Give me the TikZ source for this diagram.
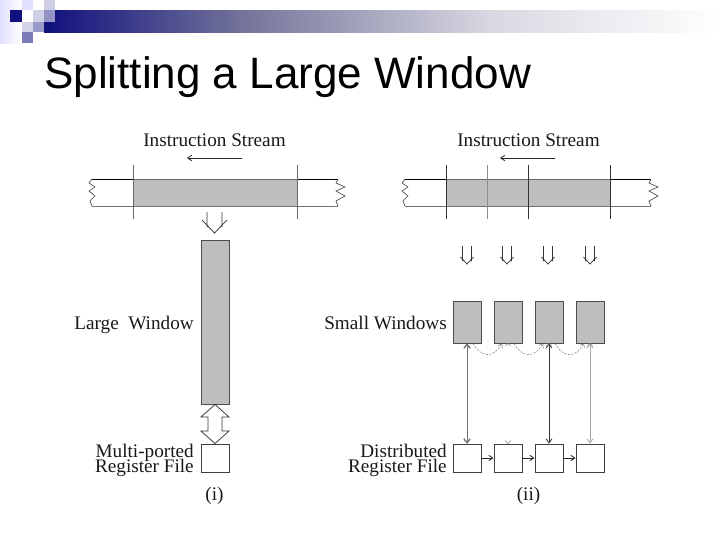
\documentclass[tikz,border=0pt]{standalone}
\usepackage{fontspec}
\setmainfont{Liberation Serif}
\newfontfamily\titlefont{Liberation Sans}
\usetikzlibrary{arrows.meta}
\setlength{\lineskiplimit}{-20pt}
\definecolor{wgray}{HTML}{BEBEBE}
\definecolor{navyA}{HTML}{10107E}
\definecolor{navyB}{HTML}{75759B}
\definecolor{navyC}{HTML}{D8D8E2}
\pgfdeclarehorizontalshading{bandshade}{100bp}{
 color(0bp)=(navyA); color(25bp)=(navyA); color(40bp)=(navyB); color(58bp)=(navyC); color(75bp)=(white); color(100bp)=(white)}
\tikzset{
 x=0.75pt,y=-0.75pt,
 lbl/.style={font=\fontsize{14.4pt}{10.9pt}\selectfont,text=black!90,inner sep=0pt},
 winbox/.style={draw=black!70,fill=wgray,line width=0.7pt,inner sep=0pt,minimum width=21pt,minimum height=31.5pt},
 regbox/.style={draw=black!75,fill=white,line width=0.7pt,inner sep=0pt,minimum width=21pt,minimum height=21pt},
 thin1/.style={draw=black!55,line width=0.55pt},
 tick1/.style={draw=black!60,line width=0.6pt},
 flow/.style={draw=black!85,line width=0.6pt,-{Straight Barb[length=3pt,width=4pt]}},
 dbl/.style={draw=black!55,line width=0.6pt,{Straight Barb[length=3pt,width=4.5pt]}-{Straight Barb[length=3pt,width=4.5pt]}},
 hop/.style={draw=black!50,line width=0.4pt,dash pattern=on 1.6pt off 1pt,-{Straight Barb[length=2.5pt,width=4pt]}},
 hollow/.style={draw=black!80,line width=0.55pt,line join=miter},
}
\newcommand{\downpair}[2]{%
 \draw[hollow] (#1-4.5,#2) -- (#1-4.5,#2+15) (#1+4.5,#2) -- (#1+4.5,#2+15)
  (#1-6.5,#2+11) -- (#1,#2+18) -- (#1+6.5,#2+11);}
\newcommand{\streamband}[2]{%
 \fill[wgray] (#1,179) rectangle (#2,206);
 \draw[black,line width=0.7pt] (#1-41,179) -- (#1,179) (#2,179) -- (#2+41,179);
 \draw[black!60,line width=0.7pt] (#1,179) -- (#2,179);
 \draw[thin1] (#1-41,206) -- (#2+41,206);
 \draw[black!70,line width=0.5pt] (#1-41,179) -- (#1-44,183) -- (#1-38,187) -- (#1-44,191) -- (#1-38,196) -- (#1-43,201) -- (#1-41,206);
 \draw[black!70,line width=0.5pt] (#2+41,179) -- (#2+39,183) -- (#2+48,187) -- (#2+39,191) -- (#2+48,196) -- (#2+39,201) -- (#2+41,206);
}
\begin{document}
\begin{tikzpicture}
\useasboundingbox (0,0) rectangle (720,540);
\fill[white] (0,0) rectangle (720,540);
% template decoration
\shade[shading=bandshade] (44,10) rectangle (720,32);
\shade[left color=blue!12!white,right color=white] (0,0) rectangle (22,43);
\fill[blue!12!white] (22,0) rectangle (33,10);
\fill[white] (22,10) rectangle (33,22);
\fill[navyA!20!white] (44,0) rectangle (55,10);
\fill[navyA!20!white] (33,10) rectangle (44,22);
\fill[navyA!45!white] (44,10) rectangle (55,22);
\fill[navyA!18!white] (22,22) rectangle (33,32);
\fill[navyA!42!white] (33,22) rectangle (44,32);
\fill[navyA!55!white] (22,32) rectangle (33,43);
\fill[navyA] (10,10) rectangle (22,22);
% title
\node[anchor=base west,inner sep=0pt,font=\titlefont\fontsize{33pt}{33pt}\selectfont] (title) at (44,88) {Splitting a Large Window};
% left
\node[lbl,anchor=base] (isL) at (214.5,146) {Instruction Stream};
\coordinate (aLs) at (242,158); \coordinate (aLe) at (187,158);
\draw[flow] (aLs) -- (aLe);
\streamband{133}{297}
\foreach \x in {133,297} \draw[tick1] (\x,165) -- (\x,219);
\draw[hollow] (207,212) -- (207,227) (222,212) -- (222,227) (202,220) -- (214.5,233) -- (227,220);
\node[winbox,minimum height=123pt] (LW) at (215,322) {};
\node[regbox] (MR) at (215,458) {};
\draw[hollow] (LW.south) -- (201,417) -- (208,417) -- (208,431) -- (201,431) -- (MR.north) -- (229,431) -- (222,431) -- (222,417) -- (229,417) -- cycle;
\node[lbl,anchor=base east] (lgw) at (194,329) {Large\ \ Window};
\node[lbl,anchor=base east,align=right] (mp) at (194,472) {Multi-ported\\Register File};
\node[lbl,anchor=base] (ci) at (214.5,500) {(i)};
% right
\node[lbl,anchor=base] (isR) at (528.5,146) {Instruction Stream};
\coordinate (aRs) at (555,158); \coordinate (aRe) at (500,158);
\draw[flow] (aRs) -- (aRe);
\streamband{446}{610}
\draw[black!80,line width=0.5pt] (446,165) -- (446,219) (528,165) -- (528,219) (610,165) -- (610,219);
\draw[black!45,line width=0.5pt] (487.5,165) -- (487.5,219);
\foreach \x in {467,507,548,590} \downpair{\x}{246}
\foreach \n/\x in {1/467,2/508,3/549,4/590}{
 \node[winbox] (w\n) at (\x,322) {};
 \node[regbox] (r\n) at (\x,458) {};
}
\draw[dbl,draw=black!55] (w1.south) -- (r1.north);
\draw[dbl,draw=black!80] (w3.south) -- (r3.north);
\draw[dbl,draw=black!35] (w4.south) -- (r4.north);
\draw[black!50,line width=0.45pt] ([xshift=-2.2pt,yshift=2.2pt]r2.north) -- (r2.north) -- ([xshift=2.2pt,yshift=2.2pt]r2.north);
\foreach \a/\b in {1/2,2/3,3/4}{
 \draw[flow] (r\a.east) -- (r\b.west);
 \draw[hop] ([xshift=4.5pt]w\a.south) to[out=-60,in=-120,looseness=1.5] ([xshift=-4.5pt]w\b.south);
 \draw[black!45,line width=0.4pt] ([xshift=-2pt,yshift=-1.8pt]w\b.south) -- ([yshift=0pt]w\b.south) -- ([xshift=2pt,yshift=-1.8pt]w\b.south);
}
\node[lbl,anchor=base east] (sw) at (447,329) {Small Windows};
\node[lbl,anchor=base east,align=right] (dr) at (447,472) {Distributed\\Register File};
\node[lbl,anchor=base] (cii) at (528.5,500) {(ii)};
\end{tikzpicture}
\end{document}
